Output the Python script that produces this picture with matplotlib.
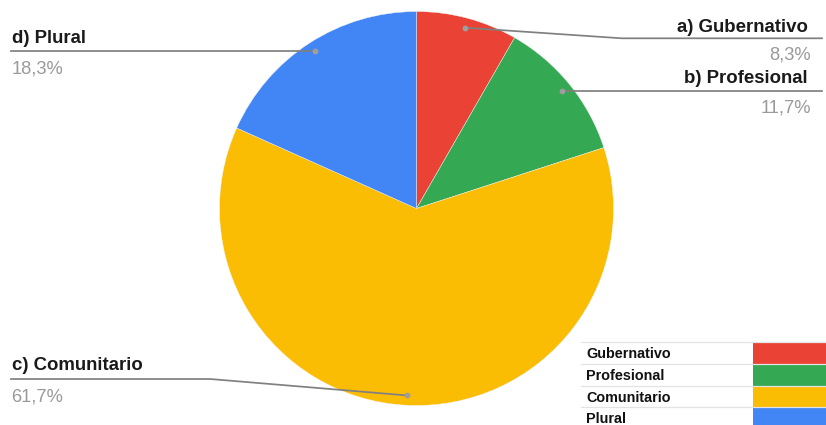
import numpy as np
import matplotlib
matplotlib.use("Agg")
import matplotlib.pyplot as plt
from matplotlib.patches import Rectangle

plt.rcParams['font.family'] = ['Liberation Sans', 'DejaVu Sans']

# ---- data ----
categories = ["Gubernativo", "Profesional", "Comunitario", "Plural"]
prefixes = ["a)", "b)", "c)", "d)"]
values = [8.3, 11.7, 61.7, 18.3]
pct_labels = ["8,3%", "11,7%", "61,7%", "18,3%"]
colors = ["#EA4335", "#34A853", "#FBBC04", "#4285F4"]

W, H = 826, 425
fig = plt.figure(figsize=(W / 100, H / 100), dpi=100)
ax = fig.add_axes([0, 0, 1, 1])

def Y(y):  # image-pixel y -> data y
    return H - y

cx, cy, R = 416.5, 208.5, 197
wedges, _ = ax.pie(values, colors=colors, startangle=90, counterclock=False,
                   center=(cx, Y(cy)), radius=R,
                   wedgeprops=dict(linewidth=0.3, edgecolor="#f4f4f4"))
ax.set_xlim(0, W)
ax.set_ylim(0, H)
ax.set_aspect("equal")
ax.axis("off")

# leader dots at 0.95 R on each wedge's mid angle
dots = []
for w in wedges:
    mid = np.deg2rad((w.theta1 + w.theta2) / 2)
    dots.append((cx + 0.95 * R * np.cos(mid), Y(cy) + 0.95 * R * np.sin(mid)))

line_c = "#808080"
dot_c = "#9e9e9e"
lab_c = "#1a1a1a"
pct_c = "#9a9a9a"
lfs, pfs = 13.4, 13.2

def lab(i):
    return f"{prefixes[i]} {categories[i]}"

# a) Gubernativo (right, elbow)
dx, dy = dots[0]
ly = Y(38.3)
ax.plot([dx, 621.7, 822], [dy, ly, ly], color=line_c, lw=1.25, zorder=3)
ax.text(808, Y(31.5), lab(0), ha="right", va="baseline", fontsize=lfs,
        fontweight="bold", color=lab_c)
ax.text(811, Y(59.5), pct_labels[0], ha="right", va="baseline", fontsize=pfs,
        color=pct_c)

# b) Profesional (right, straight)
dx, dy = dots[1]
ax.plot([dx, 822], [dy, dy], color=line_c, lw=1.25, zorder=3)
ax.text(808, dy + 7.5, lab(1), ha="right", va="baseline", fontsize=lfs,
        fontweight="bold", color=lab_c)
ax.text(811, dy - 21.5, pct_labels[1], ha="right", va="baseline", fontsize=pfs,
        color=pct_c)

# d) Plural (left, straight)
dx, dy = dots[3]
ax.plot([11, dx], [dy, dy], color=line_c, lw=1.25, zorder=3)
ax.text(11.5, dy + 8, lab(3), ha="left", va="baseline", fontsize=lfs,
        fontweight="bold", color=lab_c)
ax.text(11.5, dy - 21.7, pct_labels[3], ha="left", va="baseline", fontsize=pfs,
        color=pct_c)

# c) Comunitario (left, elbow)
dx, dy = dots[2]
ly = Y(379)
ax.plot([11, 210, dx], [ly, ly, dy], color=line_c, lw=1.25, zorder=3)
ax.text(11.5, ly + 9, lab(2), ha="left", va="baseline", fontsize=lfs,
        fontweight="bold", color=lab_c)
ax.text(11.5, ly - 22.5, pct_labels[2], ha="left", va="baseline", fontsize=pfs,
        color=pct_c)

for (dx, dy) in dots:
    ax.plot(dx, dy, "o", ms=4.2, color=dot_c, mec="none", zorder=4)

# ---- legend table ----
top = 342.3
rh = 21.6
for i, (cat, col) in enumerate(zip(categories, colors)):
    rt = top + i * rh
    ax.add_patch(Rectangle((753, Y(rt + rh)), W - 753, rh, facecolor=col,
                           edgecolor="none", zorder=5))
    ax.plot([581, W], [Y(rt), Y(rt)], color="#e3e3e3", lw=0.9, zorder=6)
    ax.text(586, Y(rt + 16.0), cat, ha="left", va="baseline", fontsize=10.4,
            fontweight="bold", color="#111111", zorder=6)

fig.savefig("out.png", dpi=100, facecolor="white")
